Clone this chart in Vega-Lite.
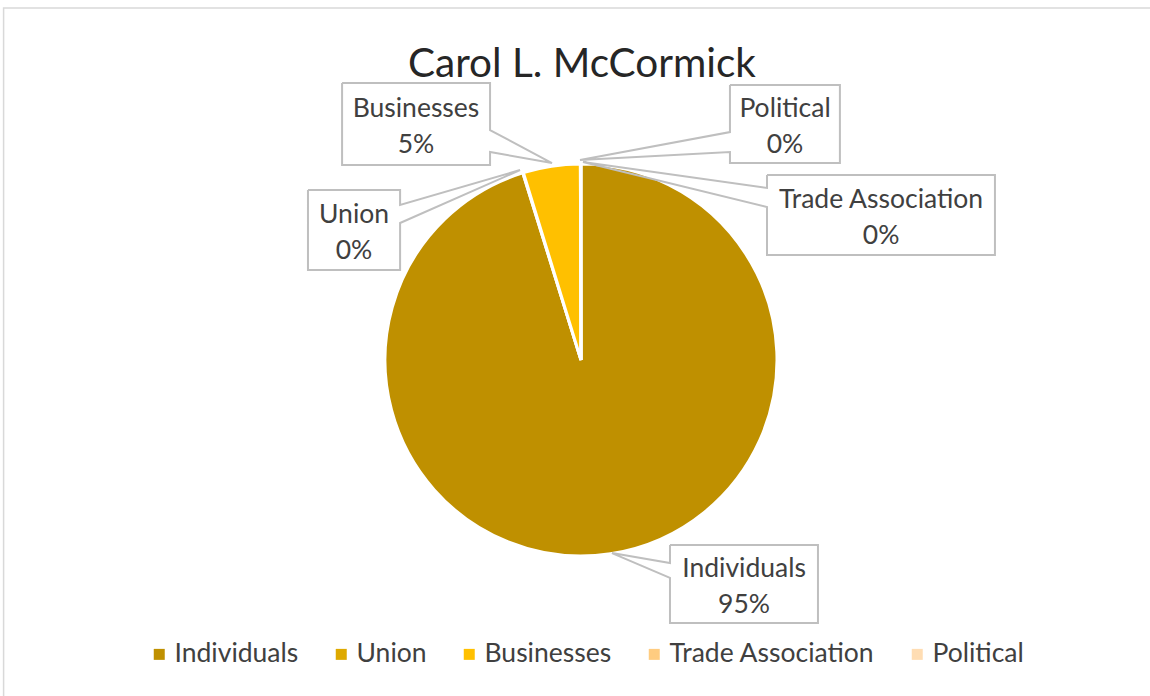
{
  "$schema": "https://vega.github.io/schema/vega-lite/v6.json",
  "width": 1138,
  "height": 672,
  "padding": {"left": 12, "top": 24, "right": 0, "bottom": 0},
  "autosize": {"type": "none"},
  "background": "white",
  "config": {
    "view": {"stroke": null},
    "font": "Lato",
    "text": {"font": "Lato"}
  },
  "datasets": {
    "slices": [
      {"category": "Individuals", "value": 95.2, "idx": 1},
      {"category": "Union", "value": 0.05, "idx": 2},
      {"category": "Businesses", "value": 4.7, "idx": 3},
      {"category": "Trade Association", "value": 0.03, "idx": 4},
      {"category": "Political", "value": 0.02, "idx": 5}
    ],
    "labels": [
      {"label": "Individuals\n95%", "cx": 0.832, "cy": -1.143},
      {"label": "Union\n0%", "cx": -1.158, "cy": 0.663},
      {"label": "Businesses\n5%", "cx": -0.842, "cy": 1.204},
      {"label": "Trade Association\n0%", "cx": 1.531, "cy": 0.740},
      {"label": "Political\n0%", "cx": 1.041, "cy": 1.204}
    ],
    "callouts": [
      {"box": "Businesses", "k": 1, "px": -1.219, "py": 1.413},
      {"box": "Businesses", "k": 2, "px": -0.464, "py": 1.413},
      {"box": "Businesses", "k": 3, "px": -0.464, "py": 1.173},
      {"box": "Businesses", "k": 4, "px": -0.148, "py": 1.005},
      {"box": "Businesses", "k": 5, "px": -0.464, "py": 1.061},
      {"box": "Businesses", "k": 6, "px": -0.464, "py": 0.995},
      {"box": "Businesses", "k": 7, "px": -1.219, "py": 0.995},
      {"box": "Businesses", "k": 8, "px": -1.219, "py": 1.413},
      {"box": "Union", "k": 1, "px": -1.393, "py": 0.867},
      {"box": "Union", "k": 2, "px": -0.923, "py": 0.867},
      {"box": "Union", "k": 3, "px": -0.923, "py": 0.791},
      {"box": "Union", "k": 4, "px": -0.311, "py": 0.969},
      {"box": "Union", "k": 5, "px": -0.923, "py": 0.699},
      {"box": "Union", "k": 6, "px": -0.923, "py": 0.459},
      {"box": "Union", "k": 7, "px": -1.393, "py": 0.459},
      {"box": "Union", "k": 8, "px": -1.393, "py": 0.867},
      {"box": "Political", "k": 1, "px": 0.760, "py": 1.403},
      {"box": "Political", "k": 2, "px": 1.321, "py": 1.403},
      {"box": "Political", "k": 3, "px": 1.321, "py": 1.005},
      {"box": "Political", "k": 4, "px": 0.760, "py": 1.005},
      {"box": "Political", "k": 5, "px": 0.760, "py": 1.061},
      {"box": "Political", "k": 6, "px": -0.005, "py": 1.020},
      {"box": "Political", "k": 7, "px": 0.760, "py": 1.163},
      {"box": "Political", "k": 8, "px": 0.760, "py": 1.403},
      {"box": "Trade Association", "k": 1, "px": 0.949, "py": 0.944},
      {"box": "Trade Association", "k": 2, "px": 2.112, "py": 0.944},
      {"box": "Trade Association", "k": 3, "px": 2.112, "py": 0.536},
      {"box": "Trade Association", "k": 4, "px": 0.949, "py": 0.536},
      {"box": "Trade Association", "k": 5, "px": 0.949, "py": 0.781},
      {"box": "Trade Association", "k": 6, "px": 0.010, "py": 1.010},
      {"box": "Trade Association", "k": 7, "px": 0.949, "py": 0.878},
      {"box": "Trade Association", "k": 8, "px": 0.949, "py": 0.944},
      {"box": "Individuals", "k": 1, "px": 0.454, "py": -0.944},
      {"box": "Individuals", "k": 2, "px": 1.209, "py": -0.944},
      {"box": "Individuals", "k": 3, "px": 1.209, "py": -1.342},
      {"box": "Individuals", "k": 4, "px": 0.454, "py": -1.342},
      {"box": "Individuals", "k": 5, "px": 0.454, "py": -1.112},
      {"box": "Individuals", "k": 6, "px": 0.158, "py": -0.985},
      {"box": "Individuals", "k": 7, "px": 0.454, "py": -1.036},
      {"box": "Individuals", "k": 8, "px": 0.454, "py": -0.944}
    ]
  },
  "layer": [
    {
      "data": {"values": [{"a": 1}]},
      "mark": {"type": "rect", "fill": null, "stroke": "#D9D9D9", "strokeWidth": 1.5},
      "encoding": {
        "x": {"datum": -2.946, "type": "quantitative", "scale": {"domain": [-2.9031, 2.9031], "nice": false, "zero": false}, "axis": null},
        "x2": {"datum": 3.5},
        "y": {"datum": 1.796, "type": "quantitative", "scale": {"domain": [-1.7143, 1.7143], "nice": false, "zero": false}, "axis": null},
        "y2": {"datum": -2.5}
      }
    },
    {
      "data": {"name": "slices"},
      "mark": {"type": "arc", "outerRadius": 196, "stroke": "white", "strokeWidth": 3},
      "encoding": {
        "theta": {"field": "value", "type": "quantitative", "stack": true},
        "order": {"field": "idx", "type": "quantitative"},
        "color": {
          "field": "category",
          "type": "nominal",
          "sort": ["Individuals", "Union", "Businesses", "Trade Association", "Political"],
          "scale": {
            "domain": ["Individuals", "Union", "Businesses", "Trade Association", "Political"],
            "range": ["#BF9000", "#DEA900", "#FFC000", "#FFCC80", "#FFDDB3"]
          },
          "legend": {
            "title": null,
            "orient": "none",
            "direction": "horizontal",
            "legendX": 134,
            "legendY": 617,
            "padding": 0,
            "symbolType": "square",
            "symbolSize": 121,
            "symbolStrokeWidth": 0,
            "labelFont": "Lato",
            "labelFontSize": 26.5,
            "labelColor": "#404040",
            "labelOffset": 2,
            "labelLimit": 400,
            "columnPadding": 29
          }
        }
      }
    },
    {
      "data": {"name": "callouts"},
      "mark": {"type": "line", "stroke": "#BFBFBF", "strokeWidth": 2, "strokeJoin": "miter"},
      "encoding": {
        "x": {"field": "px", "type": "quantitative"},
        "y": {"field": "py", "type": "quantitative"},
        "detail": {"field": "box"},
        "order": {"field": "k", "type": "quantitative"}
      }
    },
    {
      "data": {"name": "labels"},
      "mark": {"type": "text", "font": "Lato", "fontSize": 26.5, "color": "#404040", "align": "center", "baseline": "middle", "lineBreak": "\n", "lineHeight": 36, "dy": -15},
      "encoding": {
        "x": {"field": "cx", "type": "quantitative"},
        "y": {"field": "cy", "type": "quantitative"},
        "text": {"field": "label"}
      }
    },
    {
      "data": {"values": [{"t": "Carol L. McCormick"}]},
      "mark": {"type": "text", "font": "Lato", "fontSize": 40.5, "color": "#262626", "align": "center", "baseline": "alphabetic"},
      "encoding": {
        "x": {"datum": 0.005, "type": "quantitative"},
        "y": {"datum": 1.444, "type": "quantitative"},
        "text": {"field": "t"}
      }
    }
  ]
}
